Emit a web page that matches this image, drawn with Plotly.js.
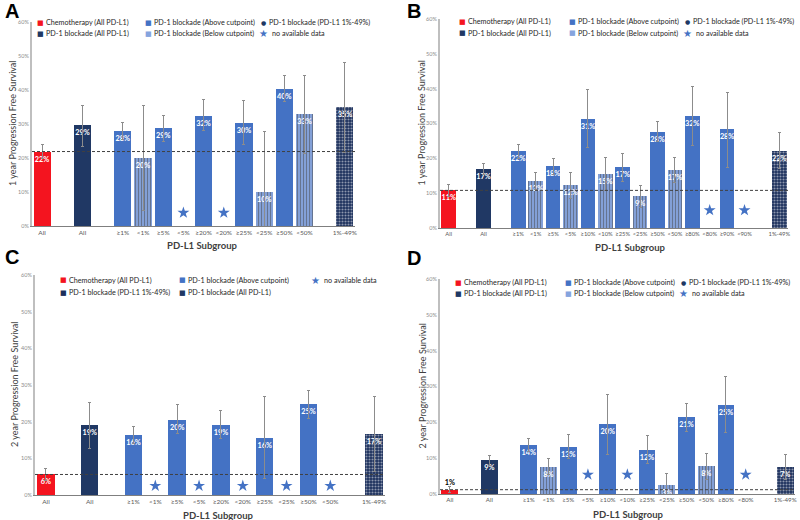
<!DOCTYPE html>
<html>
<head>
<meta charset="utf-8">
<script src="https://cdn.plot.ly/plotly-3.0.1.min.js"></script>
<style>html,body{margin:0;padding:0;background:#fff;}#chart{width:800px;height:520px;}</style>
</head>
<body>
<div id="chart"></div>
<script>
// ---------- DATA ----------
// Panel A: 1 year PFS
const A_cats = ['All','All','≥1%','<1%','≥5%','<5%','≥20%','<20%','≥25%','<25%','≥50%','<50%','1%-49%'];
const A_kind = ['chemo','all','above','below','above','none','above','none','above','below','above','below','mixed'];
const A_vals = [21.9, 29.6, 27.9, 19.9, 28.8, null, 32.5, null, 30.4, 9.9, 40.4, 32.8, 34.9];
const A_hi   = [24.1, 35.5, 30.4, 35.3, 32.6, null, 37.2, null, 36.9, 27.8, 44.3, 44.3, 48.2];
const A_lo   = [19.8, 23.3, 25.5, 4.5, 25.0, null, 28.0, null, 24.0, 0, 36.5, 21.4, 21.6];
const A_text = ['22%','29%','28%','20%','29%','','32%','','30%','10%','40%','33%','35%'];
const A_star = 3.9;

// Panel B: 1 year PFS
const B_cats = ['All','All','≥1%','<1%','≥5%','<5%','≥10%','<10%','≥25%','<25%','≥50%','<50%','≥80%','<80%','≥90%','<90%','1%-49%'];
const B_kind = ['chemo','all','above','below','above','below','above','below','above','below','above','below','above','none','above','none','mixed'];
const B_vals = [10.8, 17.0, 22.1, 13.4, 17.8, 12.3, 31.4, 15.4, 17.4, 9.1, 27.6, 16.7, 32.1, null, 28.3, null, 22.1];
const B_hi   = [12.6, 18.5, 24.1, 15.9, 20.0, 15.9, 39.8, 20.2, 21.4, 12.1, 30.5, 20.2, 40.6, null, 38.9, null, 27.3];
const B_lo   = [9.0, 15.5, 20.0, 11.0, 15.5, 8.4, 23.0, 10.8, 13.4, 6.0, 24.7, 13.2, 23.8, null, 17.5, null, 17.0];
const B_text = ['11%','17%','22%','13%','18%','12%','31%','15%','17%','9%','28%','17%','32%','','28%','','22%'];
const B_star = 5.1;

// Panel C: 2 year PFS
const C_cats = ['All','All','≥1%','<1%','≥5%','<5%','≥20%','<20%','≥25%','<25%','≥50%','<50%','1%-49%'];
const C_kind = ['chemo','all','above','none','above','none','above','none','above','none','above','none','mixed'];
const C_vals = [5.6, 19.1, 16.5, null, 20.4, null, 19.2, null, 15.5, null, 24.7, null, 16.6];
const C_hi   = [7.3, 25.2, 18.8, null, 24.8, null, 23.0, null, 26.8, null, 28.5, null, 26.8];
const C_lo   = [4.0, 12.7, 14.0, null, 16.8, null, 15.5, null, 4.4, null, 21.0, null, 6.5];
const C_text = ['6%','19%','16%','','20%','','19%','','16%','','25%','','17%'];
const C_star = 2.5;

// Panel D: 2 year PFS
const D_cats = ['All','All','≥1%','<1%','≥5%','<5%','≥10%','<10%','≥25%','<25%','≥50%','<50%','≥80%','<80%','1%-49%'];
const D_kind = ['chemo','all','above','below','above','none','above','none','above','below','above','below','above','none','mixed'];
const D_vals = [1.2, 9.4, 13.7, 7.6, 13.2, null, 19.5, null, 12.3, 2.5, 21.4, 7.8, 24.9, null, 7.4];
const D_hi   = [2.0, 10.7, 15.6, 9.8, 16.7, null, 27.9, null, 16.4, 5.6, 25.2, 11.4, 32.8, null, 11.1];
const D_lo   = [0.4, 8.0, 12.0, 5.5, 10.0, null, 11.0, null, 8.5, 0, 17.5, 4.0, 17.3, null, 4.0];
const D_text = ['1%','9%','14%','8%','13%','','20%','','12%','3%','21%','8%','25%','','7%'];
const D_star = 5.4;

const yTicks = [0, 10, 20, 30, 40, 50, 60];

// ---------- STYLE ----------
const COL = {chemo:'#f4141f', all:'#203864', above:'#4472c4', below:'#86a4de', mixed:'#1b2f5c', none:'#ffffff'};
const PAT = {
  chemo:{shape:'', fg:'#000'}, all:{shape:'', fg:'#000'}, above:{shape:'', fg:'#000'}, none:{shape:'', fg:'#000'},
  below:{shape:'|', fg:'#b3c6ec'}, mixed:{shape:'.', fg:'#7b98d4'}
};
const FONT = 'Lato, "Open Sans", sans-serif';
const W = 800, H = 520;

function pos(n) { // positions with gaps after "All" groups
  const p = [];
  for (let i = 0; i < n; i++) {
    if (i === 0) p.push(0);
    else if (i === 1) p.push(2);
    else if (i === n - 1) p.push(n + 2);
    else p.push(i + 2);
  }
  return p;
}

const traces = [];
const layout = {
  width: W, height: H, margin: {l:0, r:0, t:0, b:0},
  paper_bgcolor: '#fff', plot_bgcolor: 'rgba(0,0,0,0)',
  showlegend: false, font: {family: FONT, color: '#404040'},
  annotations: [], shapes: [], bargap: 0
};

function panel(id, cats, kind, vals, hi, lo, text, starY, px, barW, ytitle, textpos, tickSize) {
  const xs = pos(cats.length);
  const ax = id === 1 ? '' : String(id);
  const xa = 'x' + ax, ya = 'y' + ax;
  const bx = [], by = [], bc = [], ps = [], pf = [], tx = [], ep = [], em = [], tp = [], tc = [];
  const sx = [], sy = [];
  kind.forEach((k, i) => {
    if (k === 'none') { sx.push(xs[i]); sy.push(starY); return; }
    bx.push(xs[i]); by.push(vals[i]); bc.push(COL[k]);
    ps.push(PAT[k].shape); pf.push(PAT[k].fg); tx.push(text[i]);
    ep.push(hi[i] - vals[i]); em.push(vals[i] - lo[i]);
    const t = (textpos && textpos[i]) || 'inside';
    tp.push(t); tc.push(t === 'outside' ? '#000' : '#fff');
  });
  traces.push({
    type: 'bar', x: bx, y: by, xaxis: xa, yaxis: ya, width: barW,
    marker: {color: bc, line: {width: 0},
      pattern: {shape: ps, fgcolor: pf, fillmode: 'overlay', size: 3, solidity: 0.4}},
    text: tx, textposition: tp, insidetextanchor: 'end', constraintext: 'none', textangle: 0,
    textfont: {family: FONT, size: 7.3, color: tc, weight: 'bold'}, cliponaxis: false,
    error_y: {type: 'data', symmetric: false, array: ep, arrayminus: em, color: '#8c8c8c', thickness: 1, width: 1.5},
    hoverinfo: 'skip'
  });
  traces.push({
    type: 'scatter', mode: 'markers', x: sx, y: sy, xaxis: xa, yaxis: ya,
    marker: {symbol: 'star', size: 9, color: COL.above, line: {width: 0}}, hoverinfo: 'skip'
  });
  const n = cats.length;
  layout['xaxis' + ax] = {
    domain: [px.x0 / W, px.x1 / W], anchor: ya, range: [-0.5, n + 2.5],
    tickmode: 'array', tickvals: xs, ticktext: cats, ticks: '', tickangle: 0, showgrid: false, zeroline: false,
    showline: true, linecolor: '#7f7f7f', linewidth: 1,
    tickfont: {family: FONT, size: tickSize || 6.5, color: '#595959'}, fixedrange: true
  };
  layout['yaxis' + ax] = {
    domain: [1 - px.y0 / H, 1 - px.y60 / H], anchor: xa, range: [0, 60],
    tickmode: 'array', tickvals: yTicks, ticktext: yTicks.map(v => v + '%'), ticks: '', showgrid: false, zeroline: false,
    showline: true, linecolor: '#bfbfbf', linewidth: 2,
    tickfont: {family: FONT, size: 5.5, color: '#8c8c8c'}, fixedrange: true
  };
  // reference dashed line at chemo level
  layout.shapes.push({type: 'line', xref: xa + ' domain', yref: ya, x0: 0, x1: 1, y0: vals[0], y1: vals[0],
    line: {color: '#404040', width: 1, dash: '3px,2px'}});
  // axis titles
  layout.annotations.push({xref: 'paper', yref: 'paper', x: px.ytx / W, y: 1 - ((px.y0 + px.y60) / 2) / H,
    text: ytitle, textangle: -90, showarrow: false, xanchor: 'center', yanchor: 'middle',
    font: {family: FONT, size: 9, color: '#404040'}});
  layout.annotations.push({xref: 'paper', yref: 'paper', x: px.xtx / W, y: 1 - px.xty / H,
    text: 'PD-L1 Subgroup', showarrow: false, xanchor: 'center', yanchor: 'middle',
    font: {family: FONT, size: 9.5, color: '#404040', weight: 'bold'}});
  // panel letter
  layout.annotations.push({xref: 'paper', yref: 'paper', x: px.lx / W, y: 1 - px.ly / H,
    text: '<b>' + px.letter + '</b>', showarrow: false, xanchor: 'left', yanchor: 'middle',
    font: {family: 'Liberation Sans, Arial, sans-serif', size: 20, color: '#000'}});
}

function legend(items, cols, rows) {
  items.forEach(it => {
    const [c, r, glyph, color, label] = it;
    const mx = cols[c], my = rows[r];
    let g = '■', gs = 7, off = 4;
    if (glyph === 'star') { g = '★'; gs = 10; off = 7; }
    if (glyph === 'dot') { g = '●'; gs = 6; off = 3.5; }
    layout.annotations.push({xref: 'paper', yref: 'paper', x: mx / W, y: 1 - my / H, text: g,
      showarrow: false, xanchor: 'center', yanchor: 'middle', font: {family: 'DejaVu Sans', size: gs, color: color}});
    layout.annotations.push({xref: 'paper', yref: 'paper', x: (mx + off) / W, y: 1 - my / H, text: label,
      showarrow: false, xanchor: 'left', yanchor: 'middle', font: {family: FONT, size: 7.2, color: '#262626'}});
  });
}

panel(1, A_cats, A_kind, A_vals, A_hi, A_lo, A_text, A_star,
  {x0: 32, x1: 355, y0: 226, y60: 22, ytx: 12, xtx: 202, xty: 245, lx: 3, ly: 11, letter: 'A'},
  0.85, '1 year Progression Free Survival');
panel(2, B_cats, B_kind, B_vals, B_hi, B_lo, B_text, B_star,
  {x0: 440, x1: 788, y0: 228, y60: 19, ytx: 421, xtx: 630, xty: 247, lx: 405, ly: 11, letter: 'B'},
  0.83, '1 year Progression Free Survival', null, 5.8);
panel(3, C_cats, C_kind, C_vals, C_hi, C_lo, C_text, C_star,
  {x0: 35, x1: 385, y0: 495, y60: 275, ytx: 14, xtx: 218, xty: 515, lx: 3, ly: 257, letter: 'C'},
  0.8, '2 year Progression Free Survival');
panel(4, D_cats, D_kind, D_vals, D_hi, D_lo, D_text, D_star,
  {x0: 440, x1: 795, y0: 494, y60: 279, ytx: 422, xtx: 628, xty: 514, lx: 405, ly: 258, letter: 'D'},
  0.85, '2 year Progression Free Survival', ['outside'], 6.2);

const stdItems = [
  [0, 0, 'sq', COL.chemo, 'Chemotherapy (All PD-L1)'],
  [1, 0, 'sq', COL.above, 'PD-1 blockade (Above cutpoint)'],
  [2, 0, 'dot', COL.all, 'PD-1 blockade (PD-L1 1%-49%)'],
  [0, 1, 'sq', COL.all, 'PD-1 blockade (All PD-L1)'],
  [1, 1, 'sq', COL.below, 'PD-1 blockade (Below cutpoint)'],
  [2, 1, 'star', COL.above, 'no available data']
];
legend(stdItems, [40, 148, 263], [23, 34]);
legend(stdItems, [462, 572, 687], [22, 33]);
legend([
  [0, 0, 'sq', COL.chemo, 'Chemotherapy (All PD-L1)'],
  [1, 0, 'sq', COL.above, 'PD-1 blockade (Above cutpoint)'],
  [2, 0, 'star', COL.above, 'no available data'],
  [0, 1, 'sq', COL.mixed, 'PD-1 blockade (PD-L1 1%-49%)'],
  [1, 1, 'sq', COL.all, 'PD-1 blockade (All PD-L1)']
], [63, 182, 315], [280, 292.5]);
legend(stdItems, [458, 568, 683], [282.5, 293.5]);

Plotly.newPlot('chart', traces, layout, {displayModeBar: false, staticPlot: true});
</script>
</body>
</html>
